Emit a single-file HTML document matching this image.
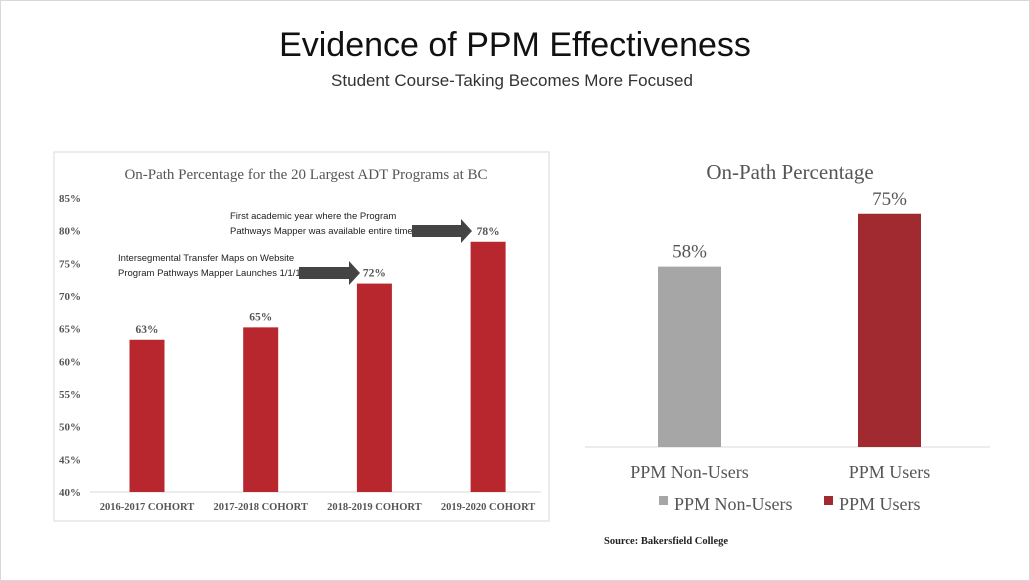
<!DOCTYPE html>
<html><head><meta charset="utf-8"><style>
body{margin:0;background:#fff;}
svg{display:block;font-family:"Liberation Serif",serif;}
</style></head><body>
<svg width="1030" height="581" viewBox="0 0 1030 581">
<rect x="0.5" y="0.5" width="1029" height="580" fill="#fff" stroke="#d8d8d8"/>
<text x="515" y="56" text-anchor="middle" font-family="Liberation Sans,sans-serif" font-size="34" fill="#111">Evidence of PPM Effectiveness</text>
<text x="512" y="86" text-anchor="middle" font-family="Liberation Sans,sans-serif" font-size="17" fill="#333">Student Course-Taking Becomes More Focused</text>
<rect x="54" y="152" width="495" height="369" fill="#fff" stroke="#d9d9d9"/>
<text x="306" y="179" text-anchor="middle" font-size="15" fill="#555">On-Path Percentage for the 20 Largest ADT Programs at BC</text>
<g id="left"></g>
<g>
<text x="230" y="219" font-family="Liberation Sans,sans-serif" font-size="9.5" fill="#222">First academic year where the Program</text>
<text x="230" y="234" font-family="Liberation Sans,sans-serif" font-size="9.5" fill="#222">Pathways Mapper was available entire time.</text>
<polygon points="412,225 461,225 461,219 472,231 461,243 461,237 412,237" fill="#444"/>
<text x="118" y="261" font-family="Liberation Sans,sans-serif" font-size="9.5" fill="#222">Intersegmental Transfer Maps on Website</text>
<text x="118" y="276" font-family="Liberation Sans,sans-serif" font-size="9.5" fill="#222">Program Pathways Mapper Launches 1/1/19</text>
<polygon points="299,267 349,267 349,261 360,273 349,285 349,279 299,279" fill="#444"/>
</g>
<text x="790" y="179" text-anchor="middle" font-size="21" fill="#555">On-Path Percentage</text>
<g id="right"></g>
<rect x="659" y="496" width="9" height="9" fill="#a6a6a6"/>
<text x="674" y="510" font-size="18" fill="#555">PPM Non-Users</text>
<rect x="824" y="496" width="9" height="9" fill="#a12a30"/>
<text x="839" y="510" font-size="18" fill="#555">PPM Users</text>
<text x="604" y="544" font-size="10.5" font-weight="bold" fill="#222">Source: Bakersfield College</text>
</svg>
<script>
const leftCats=["2016-2017 COHORT","2017-2018 COHORT","2018-2019 COHORT","2019-2020 COHORT"];
const leftVals=[63.3,65.2,71.9,78.3];
const leftLabels=["63%","65%","72%","78%"];
const leftTicks=[40,45,50,55,60,65,70,75,80,85];
const rightCats=["PPM Non-Users","PPM Users"];
const rightVals=[58,75];
const rightLabels=["58%","75%"];
const rightColors=["#a6a6a6","#a12a30"];
const NS="http://www.w3.org/2000/svg";
function mk(p,t,a,txt){const e=document.createElementNS(NS,t);for(const k in a)e.setAttribute(k,a[k]);if(txt!=null)e.textContent=txt;p.appendChild(e);return e;}
const L=document.getElementById('left');
const ly=v=>492-(v-40)*294/45;
const lx=i=>147+i*113.7;
leftTicks.forEach(t=>{const e=mk(L,'text',{x:81,y:ly(t)+4,'text-anchor':'end','font-size':11,'font-weight':'bold',fill:'#555'},t+'%');

});
const ax=mk(L,'line',{x1:90,x2:541,y1:492,y2:492,stroke:'#d9d9d9'});


leftVals.forEach((v,i)=>{
const b=mk(L,'rect',{x:lx(i)-17.5,y:ly(v),width:35,height:492-ly(v),fill:'#b8262e'});


const t=mk(L,'text',{x:lx(i),y:ly(v)-7,'text-anchor':'middle','font-size':11.5,'font-weight':'bold',fill:'#555'},leftLabels[i]);


const c=mk(L,'text',{x:lx(i),y:510,'text-anchor':'middle','font-size':10.5,'font-weight':'bold',fill:'#555'},leftCats[i]);


});
const R=document.getElementById('right');
const ry=v=>447-v*3.11;
const rx=i=>689.5+i*200;
const ax2=mk(R,'line',{x1:585,x2:990,y1:447,y2:447,stroke:'#d9d9d9'});


rightVals.forEach((v,i)=>{
const b=mk(R,'rect',{x:rx(i)-31.5,y:ry(v),width:63,height:447-ry(v),fill:rightColors[i]});


const t=mk(R,'text',{x:rx(i),y:ry(v)-9,'text-anchor':'middle','font-size':19,fill:'#555'},rightLabels[i]);


const c=mk(R,'text',{x:rx(i),y:478,'text-anchor':'middle','font-size':18,fill:'#555'},rightCats[i]);


});
</script>
</body></html>
